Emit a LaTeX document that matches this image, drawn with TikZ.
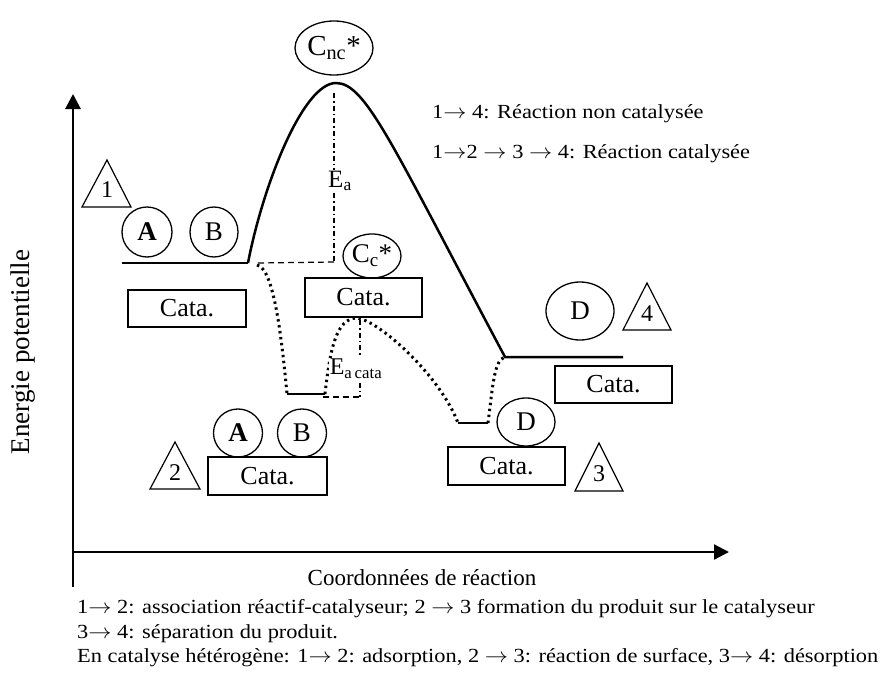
\documentclass[tikz,border=0pt]{standalone}
\usepackage{fontspec}
\setmainfont{Liberation Serif}
\usetikzlibrary{arrows.meta,shapes.geometric}
\newcommand{\wide}[1]{\scalebox{1.12}[1]{#1}}
\begin{document}
\begin{tikzpicture}[x=1pt,y=-1pt,
  mol/.style={draw, ellipse, line width=1.3pt, inner sep=0pt, font=\fontsize{27}{29}\selectfont},
  catabox/.style={draw, line width=1.4pt, inner sep=0pt, minimum width=117pt, minimum height=38pt, font=\fontsize{26}{28}\selectfont},
  tri/.style={draw, line width=1.2pt, line join=miter},
  trinum/.style={font=\fontsize{24}{26}\selectfont, inner sep=0pt},
  level/.style={line width=2.5pt},
  ncurve/.style={line width=2.5pt},
  dotcurve/.style={line width=3pt, dash pattern=on 2.4pt off 3.6pt},
  dashdot/.style={line width=1.5pt, dash pattern=on 5pt off 3pt on 1.5pt off 3pt},
  dashline/.style={line width=1.2pt, dash pattern=on 6pt off 4pt},
  axis/.style={line width=2.8pt, -{Triangle[length=15pt,width=15pt]}},
  lbl/.style={inner sep=0pt, font=\fontsize{20}{22}\selectfont, anchor=west},
]
\useasboundingbox (0,0) rectangle (889,680);

% axes
\coordinate (O) at (73,587);
\coordinate (Ytop) at (73,94);
\coordinate (Xl) at (73,552);
\coordinate (Xr) at (729,552);
\draw[axis] (O) -- (Ytop);
\draw[axis, line width=2.2pt] (Xl) -- (Xr);
\node[rotate=90, inner sep=0pt, font=\fontsize{27}{29}\selectfont] (ylab) at (23,352) {Energie potentielle};
\node[inner sep=0pt, font=\fontsize{23}{25}\selectfont] (xlab) at (422,578) {Coordonnées de réaction};

% level lines and non-catalysed curve
\coordinate (L1a) at (122,263);
\coordinate (L1b) at (248,263);
\coordinate (Pk) at (336,83);
\coordinate (L4a) at (505,357);
\coordinate (L4b) at (623,357);
\draw[level] (L1a) -- (L1b);
\draw[ncurve] (L1b) .. controls (263,185) and (303,83) .. (Pk)
      .. controls (366,83) and (392,145) .. (L4a) -- (L4b);

% catalysed path
\coordinate (C0) at (257,265);
\coordinate (C1) at (287,394);
\coordinate (C2) at (325,394);
\coordinate (Pc) at (357,318);
\coordinate (C3) at (458,423);
\coordinate (C4) at (488,423);
\draw[dotcurve] (C0) .. controls (273,268) and (281,330) .. (C1);
\draw[level] (C1) -- (C2);
\draw[dotcurve] (C2) .. controls (330,350) and (336,318) .. (Pc)
      .. controls (378,320) and (440,375) .. (C3);
\draw[level] (C3) -- (C4);
\draw[dotcurve] (C4) .. controls (493,385) and (494,360) .. (L4a);

% activation energies
\coordinate (EaTop) at (334,93);
\coordinate (EaBot) at (334,262);
\coordinate (Dl) at (258,263);
\draw[dashdot] (EaTop) -- (EaBot);
\draw[dashline] (Dl) -- (EaBot);
\node[fill=white, inner sep=1pt, font=\fontsize{25}{27}\selectfont] (Ea) at (340,181) {E\textsubscript{a}};
\coordinate (EcTop) at (360,320);
\coordinate (EcBot) at (360,397);
\coordinate (EcL) at (323,397);
\draw[dashdot, line width=1.2pt] (EcTop) -- (EcBot);
\draw[dashline] (EcL) -- (EcBot);
\node[fill=white, inner sep=1pt, font=\fontsize{24}{26}\selectfont] (Eac) at (356,369) {E\textsubscript{a\,cata}};

% state 1
\node[mol, minimum width=50pt, minimum height=50pt] (A1) at (147,232) {\textbf{A}};
\node[mol, minimum width=48pt, minimum height=50pt] (B1) at (214,232) {B};
\node[catabox, minimum width=118pt, minimum height=37pt] (K1) at (187,308.5) {Cata.};
\coordinate (T1a) at (107,160); \coordinate (T1b) at (82,207); \coordinate (T1c) at (131,207);
\draw[tri] (T1a) -- (T1b) -- (T1c) -- cycle;
\node[trinum] (n1) at (107,190) {1};

% transition state
\node[mol, minimum width=78pt, minimum height=54pt, font=\fontsize{29}{31}\selectfont] (Cnc) at (334,48) {C\textsubscript{nc}*};
\node[mol, minimum width=58pt, minimum height=44pt] (Cc) at (372,256) {C\textsubscript{c}*};
\node[catabox, minimum width=117pt, minimum height=39pt] (Km) at (363.5,297.5) {Cata.};

% state 2
\node[mol, minimum width=49pt, minimum height=48pt] (A2) at (238,433) {\textbf{A}};
\node[mol, minimum width=49pt, minimum height=48pt] (B2) at (302,433) {B};
\node[catabox, minimum width=119pt, minimum height=38pt] (K2) at (267.5,476) {Cata.};
\coordinate (T2a) at (175,442); \coordinate (T2b) at (150,489); \coordinate (T2c) at (200,489);
\draw[tri] (T2a) -- (T2b) -- (T2c) -- cycle;
\node[trinum] (n2) at (175,473) {2};

% state 3
\node[mol, minimum width=58pt, minimum height=48pt] (D3) at (526,422) {D};
\node[catabox, minimum width=117pt, minimum height=38pt] (K3) at (506.5,466) {Cata.};
\coordinate (T3a) at (599,443); \coordinate (T3b) at (575,491); \coordinate (T3c) at (623,491);
\draw[tri] (T3a) -- (T3b) -- (T3c) -- cycle;
\node[trinum] (n3) at (599,474) {3};

% state 4
\node[mol, minimum width=68pt, minimum height=58pt] (D4) at (580,311) {D};
\node[catabox, minimum width=117pt, minimum height=37pt] (K4) at (613.5,384.5) {Cata.};
\coordinate (T4a) at (647,283); \coordinate (T4b) at (623,330); \coordinate (T4c) at (671,330);
\draw[tri] (T4a) -- (T4b) -- (T4c) -- cycle;
\node[trinum] (n4) at (647,314) {4};

% legends
\node[lbl] (leg1) at (432,114) {\wide{1$\rightarrow$ 4: Réaction non catalysée}};
\node[lbl] (leg2) at (432,154) {\wide{1$\rightarrow$2 $\rightarrow$ 3 $\rightarrow$ 4: Réaction catalysée}};
\node[lbl] (b1) at (77,609) {\wide{1$\rightarrow$ 2: association réactif-catalyseur; 2 $\rightarrow$ 3 formation du produit sur le catalyseur}};
\node[lbl] (b2) at (77,634) {\wide{3$\rightarrow$ 4: séparation du produit.}};
\node[lbl] (b3) at (77,658) {\wide{En catalyse hétérogène: 1$\rightarrow$ 2: adsorption, 2 $\rightarrow$ 3: réaction de surface, 3$\rightarrow$ 4: désorption}};
\end{tikzpicture}
\end{document}
